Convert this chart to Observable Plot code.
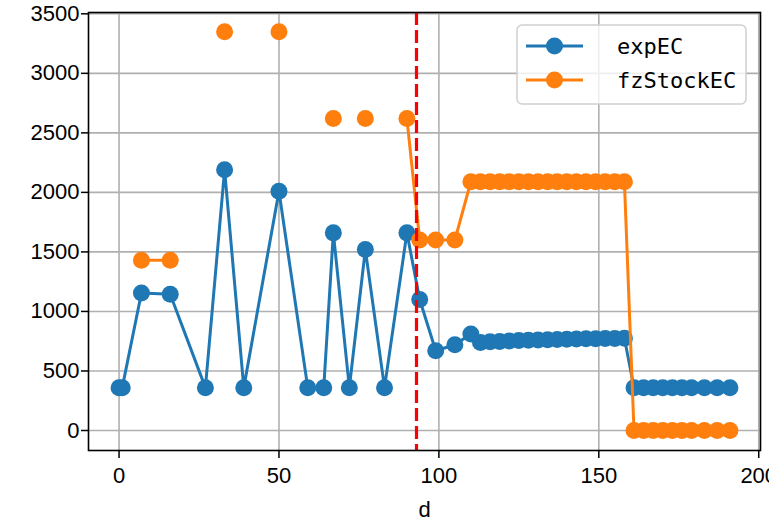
<!DOCTYPE html>
<html>
<head>
<meta charset="utf-8">
<script src="https://cdn.jsdelivr.net/npm/d3@7"></script>
<script src="https://cdn.jsdelivr.net/npm/@observablehq/plot@0.6"></script>
<style>
  html, body { margin: 0; padding: 0; background: white; }
  #chart { width: 769px; height: 520px; }
</style>
</head>
<body>
<div id="chart"></div>
<script>
// ---- data ----
const d = [0, 1, 7, 16, 27, 33, 39, 50, 59, 64, 67, 72, 77, 83, 90, 94, 99, 105, 110,
  113, 116, 119, 122, 125, 128, 131, 134, 137, 140, 143, 146, 149, 152, 155, 158,
  161, 164, 167, 170, 173, 176, 179, 183, 187, 191];
const expEC = [360, 360, 1155, 1145, 360, 2190, 360, 2010, 360, 360, 1660, 360, 1520, 360, 1660, 1100, 670, 720, 810,
  740, 745, 748, 752, 755, 758, 760, 762, 764, 766, 768, 770, 771, 772, 773, 775,
  360, 360, 360, 360, 360, 360, 360, 360, 360, 360];
const fzStockEC = [null, null, 1430, 1430, null, 3350, null, 3350, null, null, 2620, null, 2620, null, 2620, 1600, 1600, 1600, 2090,
  2090, 2090, 2090, 2090, 2090, 2090, 2090, 2090, 2090, 2090, 2090, 2090, 2090, 2090, 2090, 2090,
  0, 0, 0, 0, 0, 0, 0, 0, 0, 0];
const splitDay = [93];
const xTicks = [0, 50, 100, 150, 200];
const yTicks = [0, 500, 1000, 1500, 2000, 2500, 3000, 3500];
const seriesNames = ["expEC", "fzStockEC"];
const seriesColors = ["#1f77b4", "#ff7f0e"];
const xLabel = "d";

const rows = d.map((x, i) => ({ d: x, expEC: expEC[i], fzStockEC: fzStockEC[i] }));

const tickFont = "Liberation Sans";
const chart = Plot.plot({
  width: 769,
  height: 520,
  marginLeft: 88,
  marginRight: 9,
  marginTop: 12,
  marginBottom: 70,
  style: { fontFamily: tickFont, fontSize: "22px", background: "white", color: "black" },
  x: { domain: [-9.55, 200.55] },
  y: { domain: [-168, 3511] },
  marks: [
    Plot.gridX(xTicks, { stroke: "#b0b0b0", strokeOpacity: 1, strokeWidth: 1.6 }),
    Plot.gridY(yTicks, { stroke: "#b0b0b0", strokeOpacity: 1, strokeWidth: 1.6 }),
    Plot.line(rows, { x: "d", y: "expEC", stroke: seriesColors[0], strokeWidth: 3 }),
    Plot.dot(rows, { x: "d", y: "expEC", r: 8.5, fill: seriesColors[0], stroke: "none" }),
    Plot.line(rows, { x: "d", y: "fzStockEC", stroke: seriesColors[1], strokeWidth: 3 }),
    Plot.dot(rows.filter(r => r.fzStockEC != null), { x: "d", y: "fzStockEC", r: 8.5, fill: seriesColors[1], stroke: "none" }),
    Plot.ruleX(splitDay, { stroke: "red", strokeWidth: 3.2, strokeDasharray: "13,5" }),
    Plot.frame({ stroke: "black", strokeWidth: 1.6 }),
    Plot.axisX(xTicks, { tickSize: 8, tickPadding: 9, strokeWidth: 1.5, label: null, fontSize: 22, tickFormat: v => String(v) }),
    Plot.axisY(yTicks, { tickSize: 7, tickPadding: 2, strokeWidth: 1.5, label: null, fontSize: 22, tickFormat: v => String(v) }),
    Plot.text([xLabel], { frameAnchor: "bottom", dy: 66, fontSize: 22, text: t => t })
  ]
});
document.getElementById("chart").appendChild(chart);

// ---- legend (inside the axes, upper right) ----
const svg = d3.select(chart);
const lg = svg.append("g").attr("transform", "translate(517,25)");
lg.append("rect")
  .attr("x", 0).attr("y", 0).attr("width", 229).attr("height", 79)
  .attr("rx", 5).attr("ry", 5)
  .attr("fill", "white").attr("fill-opacity", 0.8)
  .attr("stroke", "#d0d0d0").attr("stroke-width", 1.5);
seriesNames.forEach((name, i) => {
  const y = 21 + i * 34;
  lg.append("line").attr("x1", 9).attr("x2", 66).attr("y1", y).attr("y2", y)
    .attr("stroke", seriesColors[i]).attr("stroke-width", 3);
  lg.append("circle").attr("cx", 37.5).attr("cy", y).attr("r", 8.5).attr("fill", seriesColors[i]);
  lg.append("text").attr("x", 100).attr("y", y).attr("dy", "0.36em")
    .attr("text-anchor", "start")
    .attr("font-family", "DejaVu Sans Mono").attr("font-size", 22)
    .attr("fill", "black").text(name);
});
</script>
</body>
</html>
